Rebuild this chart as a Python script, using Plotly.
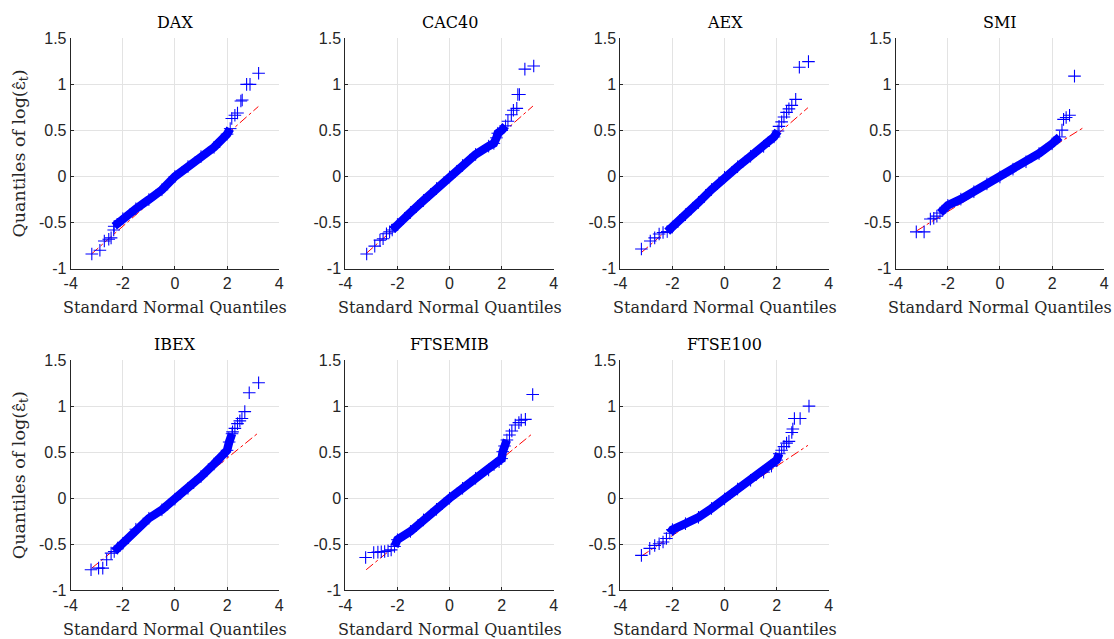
import plotly.graph_objects as go

W, H = 1114, 639

titles = ["DAX", "CAC40", "AEX", "SMI", "IBEX", "FTSEMIB", "FTSE100"]
x_label = "Standard Normal Quantiles"
y_label = "Quantiles of log(\u03b5\u0302<sub>t</sub>)"

x_ticks = [-4, -2, 0, 2, 4]
x_tick_text = ["-4", "-2", "0", "2", "4"]
y_ticks = [-1, -0.5, 0, 0.5, 1, 1.5]
y_tick_text = ["-1", "-0.5", "0", "0.5", "1", "1.5"]

ref_x = [-3.2, 3.2]

# ---- DAX ----
dax_band_x = [-2.33, -2.0, -1.5, -1.0, -0.5, 0.0, 0.5, 1.0, 1.5, 2.0, 2.12]
dax_band_y = [-0.54, -0.457, -0.35, -0.25, -0.144, 0.0, 0.108, 0.216, 0.317, 0.46, 0.52]
dax_tail_x = [-3.19, -2.88, -2.71, -2.54, -2.45, -2.35, 2.18, 2.3, 2.4, 2.53, 2.58, 2.75, 2.88, 3.21]
dax_tail_y = [-0.84, -0.80, -0.70, -0.68, -0.665, -0.58, 0.63, 0.665, 0.69, 0.82, 0.83, 1.0, 1.0, 1.12]
dax_ref_y = [-0.84, 0.76]

# ---- CAC40 ----
cac_band_x = [-2.2, -2.0, -1.5, -1.0, -0.5, 0.0, 0.5, 1.0, 1.5, 1.7, 1.8, 1.85, 2.0, 2.15]
cac_band_y = [-0.58, -0.52, -0.39, -0.26, -0.13, -0.005, 0.12, 0.24, 0.33, 0.36, 0.42, 0.47, 0.50, 0.55]
cac_tail_x = [-3.18, -2.87, -2.67, -2.55, -2.42, -2.3, 2.24, 2.37, 2.45, 2.58, 2.62, 2.68, 2.89, 3.23]
cac_tail_y = [-0.84, -0.755, -0.69, -0.675, -0.62, -0.6, 0.60, 0.67, 0.72, 0.74, 0.89, 0.89, 1.165, 1.20]
cac_ref_y = [-0.835, 0.765]

# ---- AEX ----
aex_band_x = [-2.2, -2.0, -1.5, -1.0, -0.5, 0.0, 0.5, 1.0, 1.5, 1.9, 2.05]
aex_band_y = [-0.597, -0.548, -0.414, -0.281, -0.141, -0.008, 0.106, 0.22, 0.327, 0.43, 0.494]
aex_tail_x = [-3.19, -2.85, -2.68, -2.51, -2.36, 2.09, 2.19, 2.28, 2.38, 2.47, 2.58, 2.73, 2.87, 3.22]
aex_tail_y = [-0.787, -0.70, -0.665, -0.624, -0.608, 0.544, 0.593, 0.646, 0.696, 0.734, 0.772, 0.837, 1.186, 1.247]
aex_ref_y = [-0.827, 0.747]

# ---- SMI ----
smi_band_x = [-2.3, -2.0, -1.5, -1.0, -0.5, 0.0, 0.5, 1.0, 1.5, 2.0, 2.29]
smi_band_y = [-0.396, -0.313, -0.245, -0.165, -0.08, -0.005, 0.08, 0.16, 0.25, 0.355, 0.43]
smi_tail_x = [-3.21, -2.91, -2.67, -2.54, -2.42, 2.38, 2.44, 2.54, 2.67, 2.86]
smi_tail_y = [-0.60, -0.60, -0.46, -0.453, -0.43, 0.504, 0.62, 0.64, 0.665, 1.09]
smi_ref_y = [-0.59, 0.53]

# ---- IBEX ----
ibex_band_x = [-2.33, -2.2, -2.0, -1.5, -1.0, -0.5, 0.0, 0.5, 1.0, 1.5, 1.8, 2.0, 2.08, 2.19]
ibex_band_y = [-0.578, -0.54, -0.49, -0.336, -0.217, -0.126, -0.01, 0.108, 0.235, 0.372, 0.45, 0.52, 0.61, 0.70]
ibex_tail_x = [-3.22, -2.93, -2.77, -2.62, -2.45, 2.21, 2.3, 2.4, 2.49, 2.57, 2.68, 2.85, 3.21]
ibex_tail_y = [-0.776, -0.758, -0.758, -0.668, -0.596, 0.72, 0.758, 0.81, 0.84, 0.866, 0.94, 1.144, 1.253]
ibex_ref_y = [-0.76, 0.71]

# ---- FTSEMIB ----
mib_band_x = [-2.11, -2.0, -1.5, -1.0, -0.5, 0.0, 0.5, 1.0, 1.5, 1.9, 2.0, 2.04, 2.11, 2.2]
mib_band_y = [-0.523, -0.45, -0.36, -0.235, -0.12, 0.0, 0.108, 0.217, 0.307, 0.397, 0.43, 0.505, 0.567, 0.632]
mib_tail_x = [-3.22, -2.91, -2.75, -2.62, -2.49, -2.36, -2.24, 2.3, 2.39, 2.52, 2.66, 2.75, 2.91, 3.19]
mib_tail_y = [-0.643, -0.588, -0.585, -0.58, -0.578, -0.57, -0.56, 0.686, 0.73, 0.794, 0.82, 0.848, 0.856, 1.126]
mib_ref_y = [-0.776, 0.706]

# ---- FTSE100 ----
ftse_band_x = [-2.1, -2.0, -1.5, -1.0, -0.5, 0.0, 0.5, 1.0, 1.5, 1.8, 2.0, 2.1]
ftse_band_y = [-0.38, -0.34, -0.276, -0.207, -0.111, -0.008, 0.1, 0.195, 0.283, 0.349, 0.414, 0.483]
ftse_tail_x = [-3.19, -2.87, -2.68, -2.51, -2.36, -2.23, 2.19, 2.28, 2.38, 2.47, 2.58, 2.62, 2.68, 2.9, 3.24]
ftse_tail_y = [-0.62, -0.544, -0.513, -0.494, -0.475, -0.437, 0.521, 0.56, 0.598, 0.617, 0.713, 0.751, 0.866, 0.866, 1.0]
ftse_ref_y = [-0.63, 0.574]

panels = [
    (dax_band_x, dax_band_y, dax_tail_x, dax_tail_y, dax_ref_y),
    (cac_band_x, cac_band_y, cac_tail_x, cac_tail_y, cac_ref_y),
    (aex_band_x, aex_band_y, aex_tail_x, aex_tail_y, aex_ref_y),
    (smi_band_x, smi_band_y, smi_tail_x, smi_tail_y, smi_ref_y),
    (ibex_band_x, ibex_band_y, ibex_tail_x, ibex_tail_y, ibex_ref_y),
    (mib_band_x, mib_band_y, mib_tail_x, mib_tail_y, mib_ref_y),
    (ftse_band_x, ftse_band_y, ftse_tail_x, ftse_tail_y, ftse_ref_y),
]

# ---- layout geometry (pixels) ----
col_left = [70.7, 345.3, 620.3, 895.7]
ax_w = 208.5
row_top = [38.3, 360.0]
ax_h = 230.4

BLUE = "#0000ff"
AXC = "#262626"
GRID = "#e3e3e3"
SERIF = "DejaVu Serif"
SANS = "Liberation Sans"

fig = go.Figure()
layout = dict(
    width=W, height=H,
    margin=dict(l=0, r=0, t=0, b=0, pad=0, autoexpand=False),
    paper_bgcolor="white", plot_bgcolor="white",
    showlegend=False,
)
annotations = []

for i, (bx, by, tx, ty, ry) in enumerate(panels):
    r, c = divmod(i, 4)
    k = "" if i == 0 else str(i + 1)
    xa, ya = "x" + k, "y" + k
    left, top = col_left[c], row_top[r]
    x0, x1 = left / W, (left + ax_w) / W
    y1, y0 = 1 - top / H, 1 - (top + ax_h) / H

    fig.add_trace(go.Scatter(
        x=ref_x, y=ry, mode="lines", xaxis=xa, yaxis=ya,
        line=dict(color="red", width=1, dash="dashdot"),
        hoverinfo="skip"))
    fig.add_trace(go.Scatter(
        x=bx, y=by, mode="lines+markers", xaxis=xa, yaxis=ya,
        line=dict(color=BLUE, width=8.5),
        marker=dict(symbol="cross-thin", size=9, line=dict(color=BLUE, width=1)),
        hoverinfo="skip"))
    fig.add_trace(go.Scatter(
        x=tx, y=ty, mode="markers", xaxis=xa, yaxis=ya,
        marker=dict(symbol="cross-thin", size=9, line=dict(color=BLUE, width=1.1)),
        hoverinfo="skip"))

    common = dict(showline=True, linecolor=AXC, linewidth=1, showgrid=True,
                  gridcolor=GRID, gridwidth=1, zeroline=False, ticks="inside",
                  ticklen=3, tickcolor=AXC, tickfont=dict(family=SANS, size=16, color=AXC),
                  fixedrange=True)
    layout["xaxis" + k] = dict(domain=[x0, x1], range=[-4, 4], anchor=ya,
                               tickvals=x_ticks, ticktext=x_tick_text, **common)
    layout["yaxis" + k] = dict(domain=[y0, y1], range=[-1, 1.5], anchor=xa,
                               tickvals=y_ticks, ticktext=y_tick_text, **common)

    xc = (x0 + x1) / 2
    annotations.append(dict(text=titles[i], x=xc, y=1 - (top - 16) / H, xref="paper", yref="paper",
                            showarrow=False, xanchor="center", yanchor="middle",
                            font=dict(family=SERIF, size=16, color="#000000")))
    annotations.append(dict(text=x_label, x=xc, y=1 - (top + ax_h + 39) / H, xref="paper", yref="paper",
                            showarrow=False, xanchor="center", yanchor="middle",
                            font=dict(family=SERIF, size=16, color="#262626")))
    if c == 0:
        annotations.append(dict(text=y_label, x=20 / W, y=1 - (top + ax_h / 2) / H,
                                xref="paper", yref="paper", showarrow=False, textangle=-90,
                                xanchor="center", yanchor="middle",
                                font=dict(family=SERIF, size=17.5, color="#262626")))

layout["annotations"] = annotations
fig.update_layout(**layout)
fig.write_html("out.html", config={"displayModeBar": False},
               post_script="document.body.style.margin='0px';document.body.style.overflow='hidden';")
